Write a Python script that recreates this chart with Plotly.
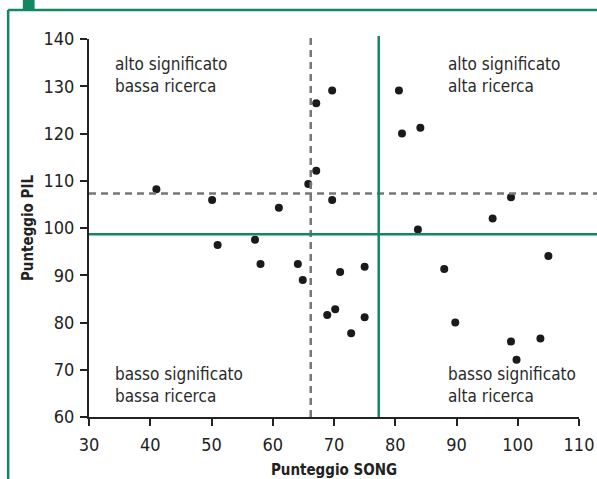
import plotly.graph_objects as go

song = [41.0, 50.1, 61.0, 65.8, 67.1, 67.1, 69.7, 69.7, 80.6, 81.1, 84.1, 98.9, 95.9, 83.7,
        51.0, 57.1, 58.0, 64.1, 64.9, 68.9, 70.2, 71.0, 75.0, 75.0, 72.8, 88.0, 89.8, 105.0,
        98.9, 103.7, 99.8]
pil = [108.2, 105.9, 104.3, 109.3, 112.1, 126.4, 129.1, 105.9, 129.1, 120.0, 121.2, 106.5, 102.0, 99.7,
       96.4, 97.5, 92.4, 92.4, 89.0, 81.6, 82.8, 90.7, 91.8, 81.1, 77.7, 91.3, 80.0, 94.1,
       76.0, 76.6, 72.1]

mean_song = 66.2
mean_pil = 107.3
split_song = 77.3
split_pil = 98.7

x_ticks = [30, 40, 50, 60, 70, 80, 90, 100, 110]
y_ticks = [60, 70, 80, 90, 100, 110, 120, 130, 140]

quadrant_labels = ["alto significato<br>bassa ricerca", "alto significato<br>alta ricerca",
                   "basso significato<br>bassa ricerca", "basso significato<br>alta ricerca"]

GREEN = "#13875f"
GREY = "#777777"
FONT = "DejaVu Sans Condensed, Roboto Condensed, Roboto, sans-serif"

fig = go.Figure()
fig.add_trace(go.Scatter(x=song, y=pil, mode="markers",
                         marker=dict(size=8, color="#1a1a1a"), showlegend=False, hoverinfo="skip"))

shapes = []
shapes.append(dict(type="line", xref="x", yref="paper", x0=mean_song, x1=mean_song, y0=0, y1=1.006,
                   line=dict(color=GREY, width=2.5, dash="7px,5px")))
shapes.append(dict(type="line", xref="paper", yref="y", x0=0, x1=1.04, y0=mean_pil, y1=mean_pil,
                   line=dict(color=GREY, width=2.5, dash="7px,5px")))
shapes.append(dict(type="line", xref="x", yref="paper", x0=split_song, x1=split_song, y0=0, y1=1.008,
                   line=dict(color=GREEN, width=2.5)))
shapes.append(dict(type="line", xref="paper", yref="y", x0=0, x1=1.04, y0=split_pil, y1=split_pil,
                   line=dict(color=GREEN, width=2.5)))
shapes.append(dict(type="line", xref="paper", yref="paper", x0=-0.165, x1=-0.165, y0=-0.2, y1=1.0767,
                   line=dict(color=GREEN, width=2.5)))
shapes.append(dict(type="line", xref="paper", yref="paper", x0=-0.165, x1=1.1, y0=1.0767, y1=1.0767,
                   line=dict(color=GREEN, width=2.5)))
shapes.append(dict(type="rect", xref="paper", yref="paper", x0=-0.135, x1=-0.111, y0=1.0767, y1=1.11,
                   line=dict(width=0), fillcolor=GREEN))

annotations = []
pos = [(113, 75), (446, 75), (113, 385), (446, 385)]
for txt, (px, py) in zip(quadrant_labels, pos):
    annotations.append(dict(text=txt, xref="paper", yref="paper",
                            x=(px - 89.3) / 490, y=(417 - py) / 378,
                            xanchor="left", yanchor="middle", align="left", showarrow=False,
                            font=dict(family=FONT, size=17, color="#2a2a2a")))

fig.update_layout(
    width=597, height=479,
    margin=dict(l=89, r=18, t=39, b=62, autoexpand=False),
    paper_bgcolor="white", plot_bgcolor="white",
    font=dict(family=FONT, color="#222222"),
    shapes=shapes, annotations=annotations,
    xaxis=dict(range=[30, 110], tickvals=x_ticks, ticktext=[str(v) for v in x_ticks],
               showgrid=False, zeroline=False, showline=True, linecolor="#222222", linewidth=2,
               ticks="outside", ticklen=7, tickwidth=2, tickcolor="#222222", ticklabelstandoff=3,
               tickfont=dict(family=FONT, size=18, color="#222222"),
               title=dict(text="<b>Punteggio SONG</b>", font=dict(family=FONT, size=15, color="#222222"),
                          standoff=17)),
    yaxis=dict(range=[60, 140], tickvals=y_ticks, ticktext=[str(v) for v in y_ticks],
               showgrid=False, zeroline=False, showline=True, linecolor="#222222", linewidth=2,
               ticks="outside", ticklen=7, tickwidth=2, tickcolor="#222222", ticklabelstandoff=2,
               tickfont=dict(family=FONT, size=18, color="#222222"),
               title=dict(text="<b>Punteggio PIL</b>", font=dict(family=FONT, size=15, color="#222222"),
                          standoff=6)),
)

fig.write_html("out.html", config={"displayModeBar": False},
               post_script="document.body.style.margin='0';")
